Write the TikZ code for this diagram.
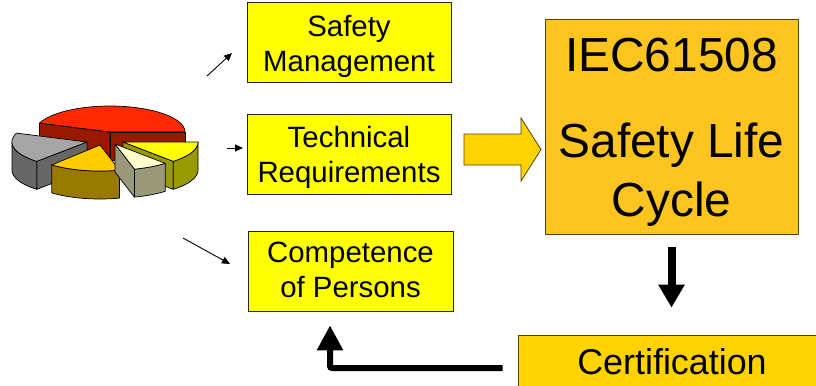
\documentclass[tikz,border=0pt]{standalone}
\usepackage{fontspec}
\setmainfont{Liberation Sans}
\usetikzlibrary{arrows.meta,calc}
\definecolor{boxyellow}{RGB}{255,255,0}
\definecolor{iecorange}{RGB}{252,196,30}
\definecolor{certgold}{RGB}{255,210,0}
\definecolor{arrowgold}{RGB}{255,210,0}
\definecolor{edgeolive}{RGB}{80,70,0}
\definecolor{piered}{RGB}{255,40,0}
\definecolor{piereddark}{RGB}{153,25,0}
\definecolor{piegrey}{RGB}{166,166,166}
\definecolor{piegreydark}{RGB}{102,102,102}
\definecolor{piegold}{RGB}{255,204,0}
\definecolor{piegolddark}{RGB}{153,122,0}
\definecolor{piecream}{RGB}{255,255,204}
\definecolor{piecreamdark}{RGB}{153,153,122}
\definecolor{pieyellow}{RGB}{255,255,0}
\definecolor{pieyellowdark}{RGB}{153,153,0}
\def\pcx{110}\def\pcy{132}\def\prx{75}\def\pry{26}\def\ph{28}
\newcommand\pietop[5]{%
 \filldraw[pieline, fill=#5] ({\pcx+(#3)},{\pcy+(#4)}) -- plot[domain=#1:#2,samples=40] ({\pcx+(#3)+\prx*cos(\x)},{\pcy+(#4)-\pry*sin(\x)}) -- cycle;}
\newcommand\pieradial[4]{%
 \filldraw[pieline, fill=#4] ({\pcx+(#2)},{\pcy+(#3)}) -- ({\pcx+(#2)+\prx*cos(#1)},{\pcy+(#3)-\pry*sin(#1)}) -- ++(0,\ph) -- ({\pcx+(#2)},{\pcy+(#3)+\ph}) -- cycle;}
\newcommand\pieside[5]{%
 \filldraw[pieline, fill=#5] plot[domain=#1:#2,samples=40] ({\pcx+(#3)+\prx*cos(\x)},{\pcy+(#4)-\pry*sin(\x)}) -- plot[domain=#2:#1,samples=40] ({\pcx+(#3)+\prx*cos(\x)},{\pcy+(#4)+\ph-\pry*sin(\x)}) -- cycle;}
\tikzset{
 pieline/.style={draw=black, line width=0.7bp, line join=round},
 ybox/.style={draw=black!85, line width=0.8bp, fill=boxyellow, minimum width=204bp, minimum height=80bp, inner sep=0pt},
 boxtext/.style={font=\fontsize{29.5}{35}\selectfont, align=center, inner sep=0pt},
 thinarrow/.style={draw=black, line width=0.9bp, -{Triangle[length=8bp,width=7bp]}},
}
\begin{document}
\begin{tikzpicture}[x=1bp,y=-1bp]
\useasboundingbox (0,0) rectangle (816,385);
% pie chart
\pieradial{0}{0}{0}{piereddark}
\pieradial{160}{0}{0}{piereddark}
\pietop{0}{160}{0}{0}{piered}
\pieradial{228}{-23}{10}{piegreydark}
\pieside{180}{228}{-23}{10}{piegreydark}
\pietop{160}{228}{-23}{10}{piegrey}
\pieradial{312}{13}{10}{pieyellowdark}
\pieside{312}{360}{13}{10}{pieyellowdark}
\pietop{312}{360}{13}{10}{pieyellow}
\pieside{230}{285}{-10}{13}{piegolddark}
\pietop{230}{285}{-10}{13}{piegold}
\pieradial{285}{5}{12}{piecreamdark}
\pieside{285}{312}{5}{12}{piecreamdark}
\pietop{285}{312}{5}{12}{piecream}
% yellow boxes
\node[ybox] (sm) at (349,42) {};
\node[boxtext] (smt) at (349,46.4) {Safety\\Management};
\node[ybox] (tr) at (349,154) {};
\node[boxtext] (trt) at (349,157) {Technical\\Requirements};
\node[ybox, minimum width=205bp] (comp) at (350.5,271) {};
\node[boxtext] (compt) at (350.5,270) {Competence\\of Persons};
% IEC box
\node[draw=edgeolive, line width=0.8bp, fill=iecorange, minimum width=253bp, minimum height=215bp, inner sep=0pt] (iec) at (671.5,126.5) {};
\node[font=\fontsize{48}{59}\selectfont, align=center, inner sep=0pt] (iect) at (671.5,132.3) {IEC61508\\[27bp]Safety Life\\Cycle};
% Certification box
\node[draw=edgeolive, line width=0.8bp, fill=certgold, minimum width=308bp, minimum height=66bp, inner sep=0pt] (cert) at (672,368) {};
\node[font=\fontsize{36}{43}\selectfont, anchor=base, inner sep=0pt] (certt) at (672,374) {Certification};
% small arrows
\coordinate (a1s) at (207,76); \coordinate (a1e) at (232,53);
\coordinate (a2s) at (227,148); \coordinate (a2e) at (243,148);
\coordinate (a3s) at (183,238); \coordinate (a3e) at (230,264);
\draw[thinarrow] (a1s) -- (a1e);
\draw[thinarrow] (a2s) -- (a2e);
\draw[thinarrow] (a3s) -- (a3e);
% block arrow
\filldraw[draw=edgeolive, line width=0.8bp, fill=arrowgold, line join=miter]
 (464,134) -- (521,134) -- (521,118) -- (541,149.5) -- (521,181) -- (521,165) -- (464,165) -- cycle;
% down arrow
\draw[line width=8bp, -{Triangle[length=23bp,width=25bp]}, shorten <=13bp, shorten >=27bp]
 (iec.south) -- (iec.south |- cert.north);
% return arrow
\coordinate (corner) at (330,368);
\draw[line width=6bp, rounded corners=2bp, -{Triangle[length=25bp,width=25bp]}, shorten <=15bp, shorten >=14bp]
 (cert.west) -- (corner) -- (corner |- comp.south);
\end{tikzpicture}
\end{document}
